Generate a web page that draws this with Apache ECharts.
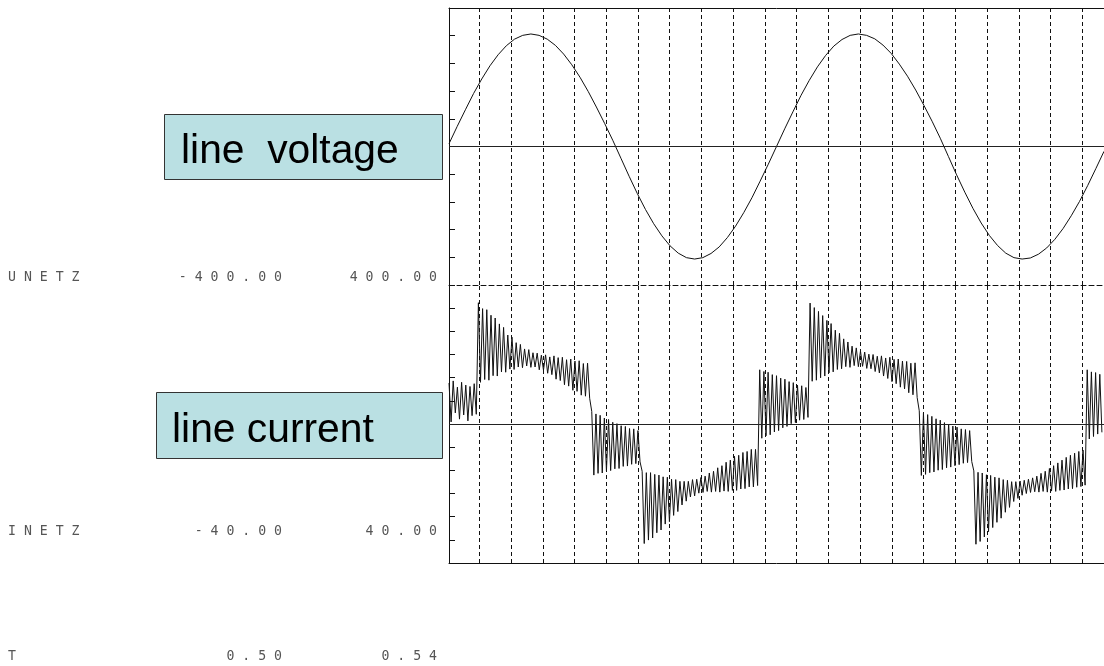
<!DOCTYPE html>
<html><head><meta charset="utf-8">
<script src="https://cdn.jsdelivr.net/npm/echarts@6/dist/echarts.min.js"></script>
<style>html,body{margin:0;padding:0;background:#fff}#c{width:1104px;height:666px}</style>
</head><body><div id="c"></div>
<script>
// ---- data ----
const timeRange = [0.50, 0.54];
const voltageRange = [-400, 400];
const currentRange = [-40, 40];
const channelNames = ['UNETZ', 'INETZ', 'T'];
const annotations = ['line  voltage', 'line current'];

// line voltage (V), sampled every 0.5 ms from t = 0.50 s
const voltageStep = 0.0005;
const voltage = [
  8, 58, 106, 153, 195, 233, 265, 291, 310, 321, 325, 321, 310, 292, 267, 236, 200, 159, 114, 67,
  18, -34, -86, -136, -182, -223, -258, -287, -308, -321, -325, -321, -309, -290, -263, -230, -191, -148, -100, -51,
  0, 51, 100, 148, 191, 230, 263, 290, 309, 321, 325, 321, 311, 293, 269, 238, 203, 163, 119, 73,
  24, -29, -82, -132, -179, -221, -257, -286, -308, -321, -325, -322, -311, -293, -268, -237, -200, -159, -113, -64, -14
];

// line current (A): peak / valley of each switching-ripple cycle
const currentHi = [
  11.8, 12.4, 10.6, 12.0, 11.2, 10.8, 11.6,
  34.9, 33.2, 32.9, 31.3, 30.5, 28.8, 27.8, 25.6, 25.0, 23.4, 22.9, 21.6, 21.4, 20.5, 20.4, 19.8, 19.9, 19.3, 19.6, 19.1, 19.2, 18.5, 18.7, 18.1, 18.2, 17.4, 17.5,
  3.6, 2.9, 2.5, 1.7, 1.3, 0.5, 0.1, -0.5, -0.7, -1.3, -1.4, -1.9,
  -13.6, -14.0, -14.0, -14.5, -14.7, -15.2, -15.3, -15.9, -16.0, -16.5, -16.5, -16.5, -16.0, -15.9, -15.4, -15.0, -14.1, -13.6, -12.6, -12.0, -11.0, -10.4, -9.3, -9.0, -8.2, -7.9, -7.3, -7.3,
  15.6, 15.1, 14.9, 14.2, 13.9, 13.2, 12.9, 12.2, 11.9, 11.2, 11.0, 10.5,
  34.8, 33.5, 32.4, 31.2, 29.8, 28.9, 27.0, 26.1, 24.5, 23.6, 22.4, 21.9, 21.0, 20.7, 20.1, 20.0, 19.5, 19.6, 19.0, 19.2, 18.6, 18.7, 18.1, 18.0, 17.5, 17.6,
  3.8, 3.2, 2.7, 2.2, 1.5, 1.1, 0.4, 0.0, -0.6, -0.9, -1.4, -1.6, -1.9,
  -13.5, -13.9, -14.1, -14.6, -14.8, -15.3, -15.5, -16.0, -16.2, -16.6, -16.6, -16.4, -16.2, -15.9, -15.5, -15.0, -14.2, -13.6, -12.8, -12.0, -11.2, -10.4, -9.6, -9.0, -8.4, -7.9, -7.5,
  15.6, 15.0, 14.8, 14.3
];
const currentLo = [
  0.6, 3.2, 1.4, 2.6, 0.9, 2.4, 2.8,
  12.0, 12.8, 12.6, 13.9, 13.8, 15.0, 14.9, 15.8, 15.7, 16.4, 16.2, 16.7, 16.3, 16.4, 15.6, 15.5, 14.6, 14.2, 12.9, 12.5, 11.3, 10.9, 9.7, 9.4, 8.3, 8.0, 7.4,
  -14.7, -14.2, -14.1, -13.5, -13.4, -12.9, -12.8, -12.2, -12.1, -11.6, -11.4, -10.9,
  -34.4, -33.4, -32.8, -31.3, -30.5, -28.8, -28.1, -26.3, -25.2, -23.3, -22.2, -21.0, -20.7, -19.9, -19.7, -19.4, -19.6, -19.4, -19.6, -19.3, -19.4, -19.1, -19.1, -18.7, -18.6, -18.1, -18.1, -17.7,
  -4.1, -3.4, -3.1, -2.3, -1.9, -1.1, -0.7, 0.1, 0.4, 1.1, 1.3, 1.9,
  12.3, 12.6, 13.3, 13.8, 14.7, 15.0, 15.7, 15.9, 16.5, 16.3, 16.8, 16.5, 16.6, 16.0, 15.9, 15.1, 14.7, 13.8, 13.1, 12.2, 11.6, 10.6, 10.1, 9.0, 8.4, 7.6,
  -14.8, -14.5, -14.0, -13.8, -13.3, -13.1, -12.6, -12.4, -12.0, -11.7, -11.3, -11.1, -10.8,
  -34.6, -33.8, -32.5, -31.0, -29.8, -28.3, -27.1, -25.4, -24.0, -22.3, -21.4, -20.5, -20.0, -19.7, -19.5, -19.6, -19.4, -19.6, -19.3, -19.4, -19.1, -19.0, -18.7, -18.6, -18.2, -18.0, -17.6,
  -4.3, -3.6, -2.9, -2.4
];

// vertical dashed division lines of the recorder display
const divFirst = 0.50185, divStep = 0.001938, divCount = 20;

// ---- build ----
const voltageData = voltage.map((v, k) => [timeRange[0] + k * voltageStep, v]);
const halfStep = (timeRange[1] - timeRange[0]) / (2 * currentHi.length);
const currentData = [];
currentHi.forEach((h, i) => {
  currentData.push([timeRange[0] + 2 * i * halfStep, h]);
  currentData.push([timeRange[0] + (2 * i + 1) * halfStep, currentLo[i]]);
});
const divLines = [];
for (let k = 0; k < divCount; k++) divLines.push({ xAxis: divFirst + k * divStep });

const INK = '#111';
function markLines() {
  return {
    silent: true, symbol: 'none', animation: false, precision: 8,
    label: { show: false },
    lineStyle: { color: INK, width: 1, type: [4, 3] },
    data: [{ yAxis: 0, lineStyle: { type: 'solid', color: '#222' } }].concat(divLines)
  };
}
function xAx(grid, pos, show, dashed) {
  return {
    type: 'value', gridIndex: grid, position: pos, min: timeRange[0], max: timeRange[1],
    axisLine: { show: show, onZero: false, lineStyle: { color: INK, width: 1, type: dashed ? [5, 3] : 'solid' } },
    axisTick: { show: false }, axisLabel: { show: false }, splitLine: { show: false }
  };
}
function yAx(grid, range, interval) {
  return {
    type: 'value', gridIndex: grid, min: range[0], max: range[1], interval: interval,
    axisLine: { show: true, onZero: false, lineStyle: { color: INK, width: 1 } },
    axisTick: { show: true, inside: true, length: 6, lineStyle: { color: INK } },
    axisLabel: { show: false }, splitLine: { show: false }
  };
}
const spaced = s => s.split('').join(' ');
const labelFont = '13.2px "DejaVu Sans Mono"';
const labelColor = '#555';
const rows = [
  { name: channelNames[0], lo: voltageRange[0].toFixed(2), hi: voltageRange[1].toFixed(2), y: 278 },
  { name: channelNames[1], lo: currentRange[0].toFixed(2), hi: currentRange[1].toFixed(2), y: 532 },
  { name: channelNames[2], lo: timeRange[0].toFixed(2), hi: timeRange[1].toFixed(2), y: 657 }
];
const graphic = [];
rows.forEach(r => {
  graphic.push({ type: 'text', x: 8, y: r.y, style: { text: spaced(r.name), font: labelFont, fill: labelColor, align: 'left', verticalAlign: 'middle' } });
  graphic.push({ type: 'text', x: 282, y: r.y, style: { text: spaced(r.lo), font: labelFont, fill: labelColor, align: 'right', verticalAlign: 'middle' } });
  graphic.push({ type: 'text', x: 437, y: r.y, style: { text: spaced(r.hi), font: labelFont, fill: labelColor, align: 'right', verticalAlign: 'middle' } });
});
const boxFill = '#bae0e3';
const boxFont = '40.8px "Liberation Sans"';
graphic.push({ type: 'rect', shape: { x: 164.5, y: 114.5, width: 278, height: 65 }, style: { fill: boxFill, stroke: '#333', lineWidth: 1 } });
graphic.push({ type: 'text', x: 181, y: 152, style: { text: annotations[0], font: boxFont, fill: '#000', align: 'left', verticalAlign: 'middle' } });
graphic.push({ type: 'rect', shape: { x: 156.5, y: 392.5, width: 286, height: 66 }, style: { fill: boxFill, stroke: '#333', lineWidth: 1 } });
graphic.push({ type: 'text', x: 172, y: 431, style: { text: annotations[1], font: boxFont, fill: '#000', align: 'left', verticalAlign: 'middle' } });

const chart = echarts.init(document.getElementById('c'), null, { renderer: 'canvas' });
chart.setOption({
  animation: false,
  backgroundColor: '#fff',
  grid: [
    { left: 449, top: 8, width: 655, height: 277 },
    { left: 449, top: 285, width: 655, height: 278 }
  ],
  xAxis: [xAx(0, 'top', true, false), xAx(0, 'bottom', false, false), xAx(1, 'top', true, true), xAx(1, 'bottom', true, false)],
  yAxis: [yAx(0, voltageRange, 80), yAx(1, currentRange, (currentRange[1] - currentRange[0]) / 12)],
  series: [
    { name: 'UNETZ', type: 'line', xAxisIndex: 0, yAxisIndex: 0, data: voltageData, showSymbol: false,
      lineStyle: { color: INK, width: 1 }, markLine: markLines() },
    { name: 'INETZ', type: 'line', xAxisIndex: 2, yAxisIndex: 1, data: currentData, showSymbol: false,
      lineStyle: { color: INK, width: 1 }, markLine: markLines() }
  ],
  graphic: graphic
});
</script></body></html>
